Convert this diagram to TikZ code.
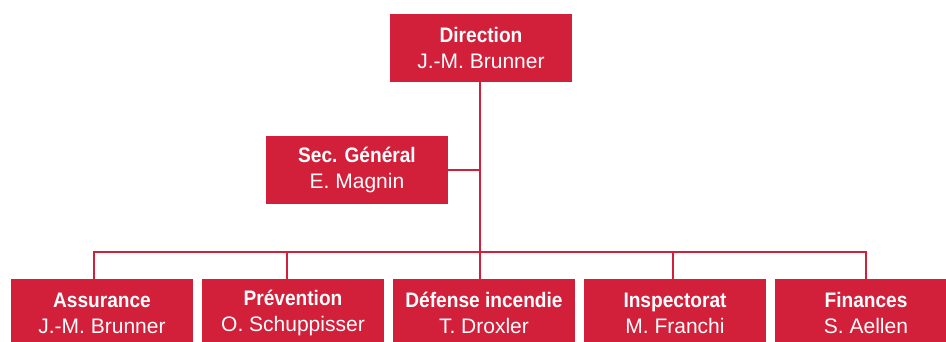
\documentclass[tikz,border=0pt]{standalone}
\usepackage{fontspec}
\setmainfont{Liberation Sans}[BoldFeatures={FakeStretch=0.91}]
\definecolor{crim}{HTML}{D21F3A}
\begin{document}
\begin{tikzpicture}[x=1pt,y=-1pt,
  unit/.style={rectangle,fill=crim,text=white,minimum width=182pt,minimum height=68pt,inner sep=0pt,align=center,font=\fontsize{21}{26}\selectfont},
  link/.style={draw=crim,line width=2pt}]
\useasboundingbox (0,0) rectangle (946,341);
\clip (0,0) rectangle (946,341);
\node[unit] (dir) at (481,48) {\textbf{Direction}\\J.-M. Brunner};
\node[unit] (sec) at (357,170) {\textbf{Sec. Général}\\E. Magnin};
\node[unit] (ass) at (102,313) {\textbf{Assurance}\\J.-M. Brunner};
\node[unit] (pre) at (293,313) {\textbf{Prévention}\\O. Schuppisser};
\node[unit] (def) at (484,313) {\textbf{Défense incendie}\\T. Droxler};
\node[unit] (ins) at (675,313) {\textbf{Inspectorat}\\M. Franchi};
\node[unit] (fin) at (866,313) {\textbf{Finances}\\S. Aellen};
\coordinate (bus) at (480,252);
\draw[link] (dir.south -| bus) -- (bus);
\draw[link] (sec.east) -- (sec.east -| bus);
\draw[link] (ass.north -| 94,0) |- (bus) -- (def.north -| bus);
\draw[link] (pre.north -| 287,0) -- (287,252);
\draw[link] (ins.north -| 673,0) -- (673,252);
\draw[link] (fin.north) |- (bus);
\end{tikzpicture}
\end{document}
